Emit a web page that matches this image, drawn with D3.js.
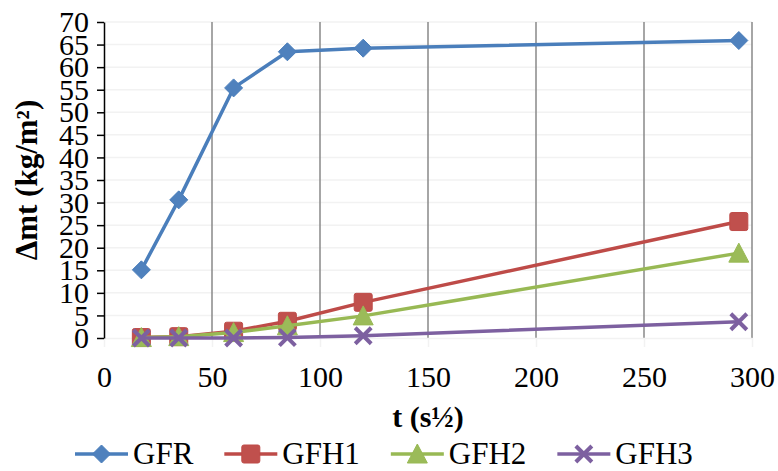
<html>
<meta charset="utf-8">
<head>
<script src="https://d3js.org/d3.v7.min.js"></script>
<style>
  body { margin: 0; background: #ffffff; }
  text { font-family: "Liberation Serif", "Times New Roman", serif; fill: #000; }
</style>
</head>
<body>
<div id="chart"></div>
<script>

// t in s^1/2 (sqrt of 300, 1200, 3600, 7200, 14400, 86400 s)
var tValues = [17.3, 34.6, 60, 84.9, 120, 293.9];
var seriesNames = ["GFR", "GFH1", "GFH2", "GFH3"];
var gfr  = [15.1, 30.6, 55.4, 63.4, 64.2, 65.9];
var gfh1 = [0.1, 0.3, 1.5, 3.7, 7.9, 25.8];
var gfh2 = [0.1, 0.3, 1.2, 2.7, 4.9, 18.8];
var gfh3 = [0, 0, 0, 0.1, 0.5, 3.6];
var xTicks = [0, 50, 100, 150, 200, 250, 300];
var yTicks = [0, 5, 10, 15, 20, 25, 30, 35, 40, 45, 50, 55, 60, 65, 70];

var colors = ["#4a7ebb", "#be4b48", "#98b954", "#7d60a0"];
var fills  = ["#4f81bd", "#c0504d", "#9bbb59", "#8064a2"];
var symbols = ["diamond", "square", "triangle", "cross"];
var allSeries = [gfr, gfh1, gfh2, gfh3];

var width = 778, height = 471;
var margin = {top: 22, right: 26, bottom: 133, left: 104};
var w = width - margin.left - margin.right,
    h = height - margin.top - margin.bottom;

var svg = d3.select("#chart")
  .append("svg")
    .attr("width", width)
    .attr("height", height)
    .style("background", "#fff");

var g = svg.append("g")
    .attr("transform", "translate(" + margin.left + "," + margin.top + ")");

var x = d3.scaleLinear().domain([0, 300]).range([0, w]);
var y = d3.scaleLinear().domain([0, 70]).range([h, 0]);

// faint horizontal gridlines
g.selectAll(".hgrid")
  .data(yTicks.slice(1))
  .enter()
  .append("line")
    .attr("x1", 0)
    .attr("x2", w)
    .attr("y1", function(d) { return y(d); })
    .attr("y2", function(d) { return y(d); })
    .attr("stroke", "#f2f2f2")
    .attr("stroke-width", 1.5);

// vertical gridlines
g.selectAll(".vgrid")
  .data(xTicks.slice(1))
  .enter()
  .append("line")
    .attr("x1", function(d) { return x(d); })
    .attr("x2", function(d) { return x(d); })
    .attr("y1", 0)
    .attr("y2", h)
    .attr("stroke", "#898989")
    .attr("stroke-width", 1.5);

// x axis
var xAxis = g.append("g")
  .attr("transform", "translate(0," + h + ")")
  .call(d3.axisBottom(x).tickValues(xTicks).tickSize(9).tickPadding(19).tickSizeOuter(0));
xAxis.select(".domain").attr("stroke", "#f2f2f2").attr("stroke-width", 1.5);
xAxis.selectAll(".tick line").attr("stroke", "#f2f2f2").attr("stroke-width", 1.5);
xAxis.selectAll("text")
  .style("font-family", "Liberation Serif")
  .style("font-size", "30px");

// y axis
var yAxis = g.append("g")
  .call(d3.axisLeft(y).tickValues(yTicks).tickSize(7).tickPadding(8).tickSizeOuter(0));
yAxis.select(".domain").attr("stroke", "#000").attr("stroke-width", 1.5);
yAxis.selectAll(".tick line").attr("stroke", "#000").attr("stroke-width", 1.5);
yAxis.selectAll("text")
  .style("font-family", "Liberation Serif")
  .style("font-size", "30px");

// axis titles
svg.append("text")
  .attr("x", margin.left + x(150))
  .attr("y", 427)
  .attr("text-anchor", "middle")
  .style("font-size", "30px")
  .style("font-weight", "bold")
  .text("t (s½)");

svg.append("text")
  .attr("transform", "translate(37," + (margin.top + y(35)) + ") rotate(-90)")
  .attr("text-anchor", "middle")
  .style("font-size", "31px")
  .style("font-weight", "bold")
  .text("Δmt (kg/m²)");

function drawMarker(sel, type, fill, stroke) {
  if (type == "diamond") {
    sel.append("path").attr("d", "M0,-9L9,0L0,9L-9,0Z")
      .attr("fill", fill).attr("stroke", stroke).attr("stroke-width", 1).attr("stroke-linejoin", "round");
  } else if (type == "square") {
    sel.append("rect").attr("x", -9).attr("y", -9).attr("width", 18).attr("height", 18)
      .attr("rx", 2).attr("fill", fill).attr("stroke", stroke).attr("stroke-width", 1);
  } else if (type == "triangle") {
    sel.append("path").attr("d", "M0,-10L10,9L-10,9Z")
      .attr("fill", fill).attr("stroke", stroke).attr("stroke-width", 1).attr("stroke-linejoin", "round");
  } else {
    sel.append("path").attr("d", "M-8,-8L8,8M-8,8L8,-8")
      .attr("fill", "none").attr("stroke", stroke).attr("stroke-width", 4);
  }
}

var line = d3.line()
  .x(function(d, i) { return x(tValues[i]); })
  .y(function(d) { return y(d); });

allSeries.forEach(function(vals, s) {
  g.append("path")
    .datum(vals)
    .attr("d", line)
    .attr("fill", "none")
    .attr("stroke", colors[s])
    .attr("stroke-width", 3.5)
    .attr("stroke-linejoin", "round");

  vals.forEach(function(v, i) {
    var m = g.append("g")
      .attr("transform", "translate(" + x(tValues[i]) + "," + y(v) + ")");
    drawMarker(m, symbols[s], fills[s], colors[s]);
  });
});

// legend
var lx = 75, ly = 454;
seriesNames.forEach(function(name, s) {
  var item = svg.append("g").attr("transform", "translate(" + lx + "," + ly + ")");
  item.append("line")
    .attr("x1", 0).attr("x2", 53)
    .attr("y1", 0).attr("y2", 0)
    .attr("stroke", colors[s])
    .attr("stroke-width", 3.5);
  var m = item.append("g").attr("transform", "translate(26.5,0)");
  drawMarker(m, symbols[s], fills[s], colors[s]);
  var t = item.append("text")
    .attr("x", 58)
    .attr("y", 10)
    .style("font-size", "31px")
    .text(name);
  lx += 58 + t.node().getComputedTextLength() + 31;
});

</script>
</body>
</html>
